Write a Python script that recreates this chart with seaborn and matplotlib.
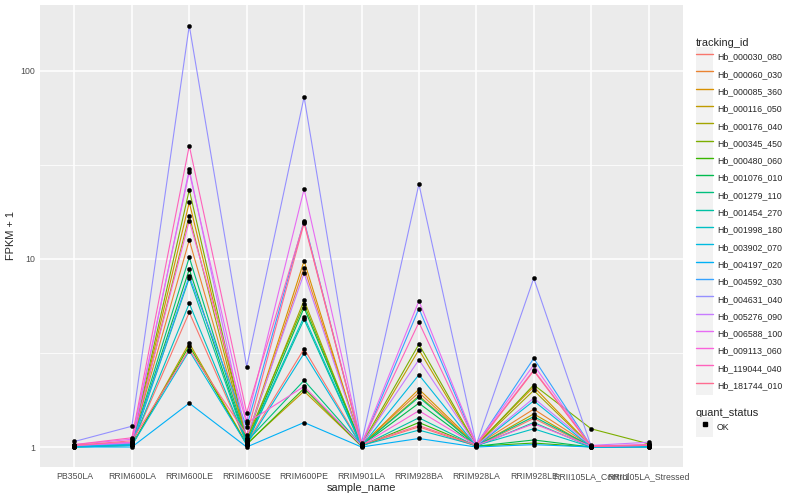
import numpy as np
import pandas as pd
import seaborn as sns
import matplotlib.pyplot as plt
from matplotlib.lines import Line2D
from matplotlib.patches import Rectangle
from matplotlib.legend_handler import HandlerLine2D
from matplotlib.ticker import FixedLocator, NullFormatter

samples = ['PB350LA', 'RRIM600LA', 'RRIM600LE', 'RRIM600SE', 'RRIM600PE', 'RRIM901LA',
           'RRIM928BA', 'RRIM928LA', 'RRIM928LE', 'RRII105LA_Control', 'RRII105LA_Stressed']

tracking_ids = ['Hb_000030_080', 'Hb_000060_030', 'Hb_000085_360', 'Hb_000116_050',
                'Hb_000176_040', 'Hb_000345_450', 'Hb_000480_060', 'Hb_001076_010',
                'Hb_001279_110', 'Hb_001454_270', 'Hb_001998_180', 'Hb_003902_070',
                'Hb_004197_020', 'Hb_004592_030', 'Hb_004631_040', 'Hb_005276_090',
                'Hb_006588_100', 'Hb_009113_060', 'Hb_119044_040', 'Hb_181744_010']

# ggplot2 hue palette for 20 levels
colors = ['#F8766D', '#EA8331', '#D89000', '#C09B00', '#A3A500', '#7CAE00', '#39B600',
          '#00BB4E', '#00BF7D', '#00C1A3', '#00BFC4', '#00BAE0', '#00B0F6', '#35A2FF',
          '#9590FF', '#C77CFF', '#E76BF3', '#FA62DB', '#FF62BC', '#FF6C91']

# FPKM + 1 for each gene, one value per sample (same order as samples)
hb_000030_080 = [1.01, 1.03, 5.2, 1.05, 3.33, 1.02, 1.28, 1.01, 1.42, 1.00, 1.01]
hb_000060_030 = [1.02, 1.06, 12.6, 1.08, 9.0, 1.03, 1.95, 1.02, 1.59, 1.01, 1.01]
hb_000085_360 = [1.02, 1.04, 20.0, 1.10, 9.76, 1.02, 2.03, 1.03, 2.09, 1.01, 1.02]
hb_000116_050 = [1.01, 1.02, 3.57, 1.04, 1.98, 1.01, 3.29, 1.01, 1.50, 1.00, 1.01]
hb_000176_040 = [1.01, 1.03, 17.0, 1.06, 6.03, 1.02, 1.87, 1.02, 2.00, 1.01, 1.02]
hb_000345_450 = [1.02, 1.05, 23.3, 1.10, 5.74, 1.03, 3.52, 1.02, 2.14, 1.25, 1.04]
hb_000480_060 = [1.00, 1.02, 3.45, 1.03, 2.05, 1.01, 1.35, 1.01, 1.05, 1.00, 1.00]
hb_001076_010 = [1.01, 1.03, 8.8, 1.05, 5.5, 1.02, 1.71, 1.01, 1.09, 1.00, 1.01]
hb_001279_110 = [1.01, 1.04, 10.2, 1.07, 2.26, 1.02, 1.84, 1.02, 1.45, 1.01, 1.01]
hb_001454_270 = [1.01, 1.03, 7.9, 1.04, 4.77, 1.01, 1.43, 1.01, 1.35, 1.00, 1.01]
hb_001998_180 = [1.01, 1.03, 5.8, 1.05, 4.94, 1.02, 1.23, 1.02, 1.25, 1.00, 1.01]
hb_003902_070 = [1.00, 1.02, 3.25, 1.03, 3.15, 1.01, 2.42, 1.01, 1.76, 1.00, 1.00]
hb_004197_020 = [1.00, 1.00, 1.71, 1.00, 1.35, 1.00, 1.11, 1.00, 1.03, 1.00, 1.00]
hb_004592_030 = [1.02, 1.04, 8.1, 1.28, 16.0, 1.02, 5.45, 1.03, 2.96, 1.01, 1.02]
hb_004631_040 = [1.07, 1.29, 174.0, 2.67, 72.7, 1.05, 25.0, 1.03, 7.9, 1.01, 1.02]
hb_005276_090 = [1.02, 1.05, 30.0, 1.12, 8.4, 1.03, 2.91, 1.02, 1.82, 1.02, 1.06]
hb_006588_100 = [1.03, 1.10, 29.0, 1.37, 23.5, 1.04, 5.98, 1.04, 2.73, 1.01, 1.03]
hb_009113_060 = [1.02, 1.06, 16.0, 1.34, 2.1, 1.02, 1.56, 1.02, 1.33, 1.01, 1.02]
hb_119044_040 = [1.03, 1.12, 40.0, 1.52, 15.8, 1.04, 4.6, 1.03, 2.57, 1.01, 1.03]
hb_181744_010 = [1.02, 1.08, 3.3, 1.16, 15.5, 1.03, 1.30, 1.02, 2.54, 1.01, 1.02]

gene_values = [hb_000030_080, hb_000060_030, hb_000085_360, hb_000116_050, hb_000176_040,
               hb_000345_450, hb_000480_060, hb_001076_010, hb_001279_110, hb_001454_270,
               hb_001998_180, hb_003902_070, hb_004197_020, hb_004592_030, hb_004631_040,
               hb_005276_090, hb_006588_100, hb_009113_060, hb_119044_040, hb_181744_010]

rows = []
for gene, vals in zip(tracking_ids, gene_values):
    for s, v in zip(samples, vals):
        rows.append({'tracking_id': gene, 'sample_name': s, 'fpkm1': v, 'quant_status': 'OK'})
df = pd.DataFrame(rows)


class KeyHandler(HandlerLine2D):
    """Legend key with the grey ggplot background box"""
    def create_artists(self, legend, orig_handle, xdescent, ydescent, width, height, fontsize, trans):
        bg = Rectangle((-xdescent, -ydescent - 1.2), width, height + 2.4, facecolor='#F2F2F2',
                       edgecolor='none', transform=trans)
        arts = super().create_artists(legend, orig_handle, xdescent, ydescent, width, height,
                                      fontsize, trans)
        return [bg] + list(arts)


sns.set_theme(style='darkgrid', rc={
    'axes.facecolor': '#EBEBEB', 'grid.color': 'white', 'axes.edgecolor': 'none',
    'figure.facecolor': 'white'})
plt.rcParams['font.family'] = ['Liberation Sans', 'DejaVu Sans']

fig = plt.figure(figsize=(8, 5), dpi=100)
ax = fig.add_axes([40 / 800, 33 / 500, 643 / 800, 462 / 500])

sns.lineplot(data=df, x='sample_name', y='fpkm1', hue='tracking_id', hue_order=tracking_ids,
             palette=colors, estimator=None, sort=False, linewidth=0.8, legend=False, ax=ax)
sns.scatterplot(data=df, x='sample_name', y='fpkm1', color='black', s=9, marker='o',
                edgecolor='black', linewidth=0.3, legend=False, ax=ax, zorder=5)

ax.set_yscale('log')
ax.set_ylim(0.783, 224)
ax.set_xlim(-0.6, len(samples) - 0.4)
ax.yaxis.set_major_locator(FixedLocator([1, 10, 100]))
ax.set_yticklabels(['1', '10', '100'])
ax.yaxis.set_minor_locator(FixedLocator([10 ** 0.5, 10 ** 1.5]))
ax.yaxis.set_minor_formatter(NullFormatter())
ax.grid(which='major', color='white', linewidth=1.1)
ax.grid(which='minor', axis='y', color='white', linewidth=0.55)
ax.tick_params(which='major', length=2.2, width=0.7, color='#333333', labelsize=6.3,
               labelcolor='#4D4D4D', pad=1.5)
ax.tick_params(which='minor', length=0)
ax.set_xlabel('sample_name', fontsize=7.9, labelpad=1.5)
ax.set_ylabel('FPKM + 1', fontsize=7.9, labelpad=3)

leg_style = dict(loc='upper left', frameon=False, fontsize=6.3, title_fontsize=7.9,
                 handlelength=1.95, handleheight=2.54, labelspacing=0.08, handletextpad=0.45,
                 borderpad=0, borderaxespad=0, alignment='left',
                 handler_map={Line2D: KeyHandler()})
gene_handles = [Line2D([], [], color=c, linewidth=1.0) for c in colors]
leg1 = fig.legend(gene_handles, tracking_ids, title='tracking_id',
                  bbox_to_anchor=(696 / 800, 1 - 38 / 500), **leg_style)
ok_handle = [Line2D([], [], color='black', marker='s', markersize=2.2, linestyle='none')]
leg2 = fig.legend(ok_handle, ['OK'], title='quant_status',
                  bbox_to_anchor=(696 / 800, 1 - 408 / 500), **leg_style)

fig.savefig('out.png', dpi=100)
